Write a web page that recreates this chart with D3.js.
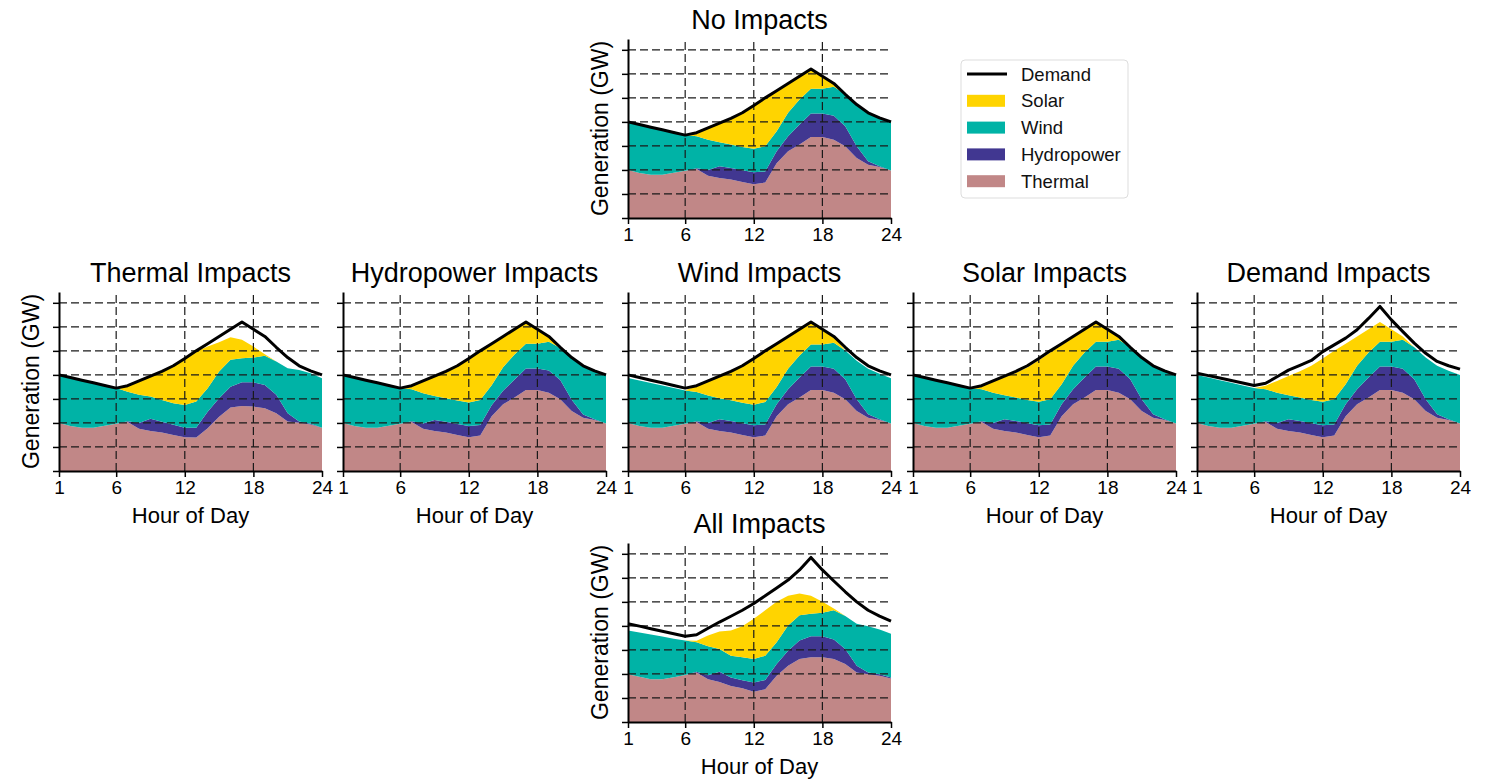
<!DOCTYPE html>
<html>
<head>
<meta charset="utf-8">
<script src="https://cdn.jsdelivr.net/npm/d3@7"></script>
<style>
  body { margin: 0; background: #fff; }
  svg { font-family: "Liberation Sans", Arial, sans-serif; }
</style>
</head>
<body>
<div id="chart"></div>
<script>
// hours of the day
const hours = [1, 2, 3, 4, 5, 6, 7, 8, 9, 10, 11, 12, 13, 14, 15, 16, 17, 18, 19, 20, 21, 22, 23, 24];
const yTicks = [0, 1, 2, 3, 4, 5, 6, 7];
const xTicks = [1, 6, 12, 18, 24];

// No Impacts (base case), GW
const demandBase = [4.0, 3.89, 3.78, 3.67, 3.56, 3.45, 3.55, 3.75, 3.95, 4.15, 4.38, 4.68, 5.0, 5.3, 5.6, 5.9, 6.2, 5.9, 5.6, 5.15, 4.72, 4.38, 4.17, 4.0];
const thermalBase = [2.0, 1.87, 1.8, 1.8, 1.88, 1.97, 2.04, 1.76, 1.67, 1.6, 1.5, 1.4, 1.48, 2.28, 2.78, 3.06, 3.37, 3.37, 3.26, 2.99, 2.5, 2.22, 2.12, 1.98];
const hydroBase = [0, 0, 0, 0, 0, 0, 0.03, 0.24, 0.48, 0.48, 0.49, 0.5, 0.46, 0.5, 0.62, 0.83, 0.98, 0.98, 1.0, 0.83, 0.49, 0.14, 0.03, 0];
const windBase = [2.0, 2.02, 1.98, 1.87, 1.68, 1.48, 1.33, 1.26, 1.0, 0.98, 0.97, 0.98, 1.05, 0.83, 0.98, 1.04, 1.03, 1.03, 1.2, 1.33, 1.73, 2.02, 2.02, 2.02];
const solarBase = [0, 0, 0, 0, 0, 0, 0.15, 0.49, 0.8, 1.09, 1.42, 1.8, 2.01, 1.69, 1.22, 0.97, 0.82, 0.52, 0.14, 0, 0, 0, 0, 0];

// Thermal Impacts
const thermalThermalImp = [2.0, 1.87, 1.8, 1.8, 1.88, 1.97, 2.04, 1.76, 1.67, 1.6, 1.5, 1.4, 1.39, 1.78, 2.26, 2.64, 2.71, 2.68, 2.61, 2.4, 2.06, 2.01, 1.94, 1.8];
const hydroThermalImp = [0, 0, 0, 0, 0, 0, 0.03, 0.24, 0.5, 0.45, 0.42, 0.4, 0.41, 0.69, 0.77, 0.87, 0.98, 1.01, 0.97, 0.77, 0.34, 0.05, 0.03, 0];
const windThermalImp = [2.0, 2.02, 1.98, 1.87, 1.68, 1.48, 1.23, 1.17, 0.93, 0.91, 0.9, 0.95, 1.09, 0.97, 1.11, 1.12, 1.0, 1.03, 1.22, 1.39, 1.88, 2.14, 2.1, 2.06];
const solarThermalImp = [0, 0, 0, 0, 0, 0, 0.25, 0.58, 0.85, 1.19, 1.56, 1.93, 2.08, 1.74, 1.22, 0.94, 0.77, 0.46, 0.06, 0, 0, 0, 0, 0];

// Hydropower Impacts
const hydroHydroImp = [0, 0, 0, 0, 0, 0, 0.03, 0.22, 0.45, 0.45, 0.46, 0.47, 0.43, 0.46, 0.56, 0.75, 0.9, 0.9, 0.92, 0.8, 0.47, 0.13, 0.03, 0];
const solarHydroImp = [0, 0, 0, 0, 0, 0, 0.15, 0.51, 0.83, 1.12, 1.45, 1.83, 2.04, 1.73, 1.28, 1.05, 0.9, 0.6, 0.22, 0, 0, 0, 0, 0];

// Wind Impacts
const windWindImp = [1.87, 1.9, 1.86, 1.76, 1.57, 1.38, 1.22, 1.14, 0.88, 0.86, 0.85, 0.86, 0.93, 0.72, 0.86, 0.92, 0.91, 0.91, 1.08, 1.2, 1.6, 1.9, 1.9, 1.88];
const solarWindImp = [0, 0, 0, 0, 0, 0, 0.26, 0.61, 0.92, 1.21, 1.54, 1.92, 2.13, 1.8, 1.34, 1.09, 0.94, 0.64, 0.26, 0, 0, 0, 0, 0];

// Solar Impacts
const solarSolarImp = [0, 0, 0, 0, 0, 0, 0.14, 0.46, 0.75, 1.03, 1.35, 1.73, 1.94, 1.63, 1.18, 0.94, 0.8, 0.5, 0.13, 0, 0, 0, 0, 0];

// Demand Impacts
const demandDemandImp = [4.07, 3.97, 3.87, 3.77, 3.66, 3.56, 3.65, 3.92, 4.2, 4.4, 4.6, 4.97, 5.25, 5.53, 5.88, 6.35, 6.85, 6.29, 5.8, 5.32, 4.9, 4.56, 4.38, 4.24];

// All Impacts
const demandAll = [4.09, 3.99, 3.88, 3.78, 3.67, 3.57, 3.63, 3.9, 4.16, 4.4, 4.65, 4.93, 5.25, 5.58, 5.91, 6.33, 6.85, 6.33, 5.87, 5.42, 5.0, 4.65, 4.41, 4.2];
const thermalAll = [1.99, 1.88, 1.78, 1.78, 1.86, 1.96, 2.06, 1.78, 1.67, 1.5, 1.4, 1.26, 1.36, 1.92, 2.34, 2.62, 2.69, 2.69, 2.62, 2.41, 2.06, 1.99, 1.92, 1.81];
const hydroAll = [0, 0, 0, 0, 0, 0, 0.03, 0.17, 0.42, 0.35, 0.34, 0.38, 0.39, 0.49, 0.63, 0.77, 0.88, 0.88, 0.81, 0.63, 0.28, 0.07, 0.07, 0.04];
const windAll = [1.82, 1.85, 1.86, 1.78, 1.61, 1.43, 1.23, 1.2, 0.95, 0.91, 0.95, 0.98, 1.01, 0.91, 1.05, 1.05, 0.94, 0.98, 1.22, 1.37, 1.75, 1.93, 1.86, 1.82];
const solarAll = [0, 0, 0, 0, 0, 0, 0.06, 0.45, 0.73, 1.05, 1.3, 1.68, 1.89, 1.68, 1.23, 0.91, 0.74, 0.45, 0.07, 0, 0, 0, 0, 0];

const sourceKeys = ["thermal", "hydro", "wind", "solar"];
const colors = { thermal: "#c18787", hydro: "#413791", wind: "#00b3a6", solar: "#ffd400" };
const legendItems = [
  { label: "Demand", key: "demand" },
  { label: "Solar", key: "solar" },
  { label: "Wind", key: "wind" },
  { label: "Hydropower", key: "hydro" },
  { label: "Thermal", key: "thermal" }
];

const panels = [
  { title: "No Impacts", demand: demandBase, thermal: thermalBase, hydro: hydroBase, wind: windBase, solar: solarBase,
    left: 628, bottom: 218, ylabel: true, xlabel: false },
  { title: "Thermal Impacts", demand: demandBase, thermal: thermalThermalImp, hydro: hydroThermalImp, wind: windThermalImp, solar: solarThermalImp,
    left: 59, bottom: 471, ylabel: true, xlabel: true },
  { title: "Hydropower Impacts", demand: demandBase, thermal: thermalBase, hydro: hydroHydroImp, wind: windBase, solar: solarHydroImp,
    left: 343, bottom: 471, ylabel: false, xlabel: true },
  { title: "Wind Impacts", demand: demandBase, thermal: thermalBase, hydro: hydroBase, wind: windWindImp, solar: solarWindImp,
    left: 628, bottom: 471, ylabel: false, xlabel: false },
  { title: "Solar Impacts", demand: demandBase, thermal: thermalBase, hydro: hydroBase, wind: windBase, solar: solarSolarImp,
    left: 913, bottom: 471, ylabel: false, xlabel: true },
  { title: "Demand Impacts", demand: demandDemandImp, thermal: thermalBase, hydro: hydroBase, wind: windBase, solar: solarBase,
    left: 1197, bottom: 471, ylabel: false, xlabel: true },
  { title: "All Impacts", demand: demandAll, thermal: thermalAll, hydro: hydroAll, wind: windAll, solar: solarAll,
    left: 628, bottom: 722, ylabel: true, xlabel: true }
];

const W = 1486, H = 779;
const width = 263, height = 179;

const svg = d3.select("#chart").append("svg")
  .attr("width", W)
  .attr("height", H);

var x = d3.scaleLinear().domain([1, 24]).range([0, width]);
var y = d3.scaleLinear().domain([0, 7.45]).range([height, 0]);

const stack = d3.stack().keys(sourceKeys);
const area = d3.area()
  .x(d => x(d.data.hour))
  .y0(d => y(d[0]))
  .y1(d => y(d[1]));
const line = d3.line()
  .x(d => x(d.hour))
  .y(d => y(d.demand));

panels.forEach(p => {
  const rows = hours.map((h, i) => ({
    hour: h,
    demand: p.demand[i],
    thermal: p.thermal[i],
    hydro: p.hydro[i],
    wind: p.wind[i],
    solar: p.solar[i]
  }));

  const g = svg.append("g")
    .attr("transform", `translate(${p.left}, ${p.bottom - height})`);

  // stacked areas
  g.selectAll(".layer")
    .data(stack(rows))
    .enter().append("path")
    .attr("class", "layer")
    .attr("fill", d => colors[d.key])
    .attr("d", area);

  // dashed grid
  g.selectAll(".hgrid")
    .data(yTicks.slice(1))
    .enter().append("line")
    .attr("x1", 0).attr("x2", width)
    .attr("y1", d => y(d)).attr("y2", d => y(d))
    .attr("stroke", "#1a1a1a")
    .attr("stroke-width", 1.2)
    .attr("stroke-dasharray", "8,4");
  g.selectAll(".vgrid")
    .data([6, 12, 18])
    .enter().append("line")
    .attr("x1", d => x(d)).attr("x2", d => x(d))
    .attr("y1", height).attr("y2", 0)
    .attr("stroke", "#1a1a1a")
    .attr("stroke-width", 1.2)
    .attr("stroke-dasharray", "8,4");

  // demand line
  g.append("path")
    .datum(rows)
    .attr("fill", "none")
    .attr("stroke", "#000")
    .attr("stroke-width", 3)
    .attr("stroke-linejoin", "round")
    .attr("d", line);

  // axes
  const gy = g.append("g")
    .call(d3.axisLeft(y).tickValues(yTicks).tickSize(6).tickSizeOuter(0).tickFormat(""));
  const gx = g.append("g")
    .attr("transform", `translate(0, ${height})`)
    .call(d3.axisBottom(x).tickValues(xTicks).tickSize(6).tickSizeOuter(0).tickPadding(4));
  [gx, gy].forEach(a => {
    a.select(".domain").attr("stroke", "#000").attr("stroke-width", 2);
    a.selectAll(".tick line").attr("stroke", "#000").attr("stroke-width", 1.5);
  });
  gx.selectAll(".tick text")
    .attr("font-size", 19)
    .attr("font-family", "Liberation Sans, Arial, sans-serif")
    .attr("fill", "#000");

  // title
  g.append("text")
    .attr("x", width / 2)
    .attr("y", -10)
    .attr("text-anchor", "middle")
    .attr("font-size", 27)
    .attr("fill", "#000")
    .text(p.title);

  if (p.xlabel) {
    g.append("text")
      .attr("x", width / 2)
      .attr("y", height + 52)
      .attr("text-anchor", "middle")
      .attr("font-size", 22)
      .attr("fill", "#000")
      .text("Hour of Day");
  }
  if (p.ylabel) {
    g.append("text")
      .attr("transform", `translate(-20, ${height / 2}) rotate(-90)`)
      .attr("text-anchor", "middle")
      .attr("font-size", 23)
      .attr("fill", "#000")
      .text("Generation (GW)");
  }
});

// legend
const legend = svg.append("g").attr("transform", "translate(961, 60)");
legend.append("rect")
  .attr("width", 167).attr("height", 138)
  .attr("rx", 4)
  .attr("fill", "#fff")
  .attr("stroke", "#ddd");
const item = legend.selectAll(".item")
  .data(legendItems)
  .enter().append("g")
  .attr("transform", (d, i) => `translate(6, ${14 + i * 26.8})`);
item.filter(d => d.key === "demand").append("line")
  .attr("x1", 0).attr("x2", 40)
  .attr("stroke", "#000").attr("stroke-width", 3);
item.filter(d => d.key !== "demand").append("rect")
  .attr("x", 0).attr("y", -6)
  .attr("width", 38).attr("height", 12)
  .attr("fill", d => colors[d.key]);
item.append("text")
  .attr("x", 54).attr("y", 6.5)
  .attr("font-size", 18.5)
  .attr("fill", "#111")
  .text(d => d.label);
</script>
</body>
</html>
